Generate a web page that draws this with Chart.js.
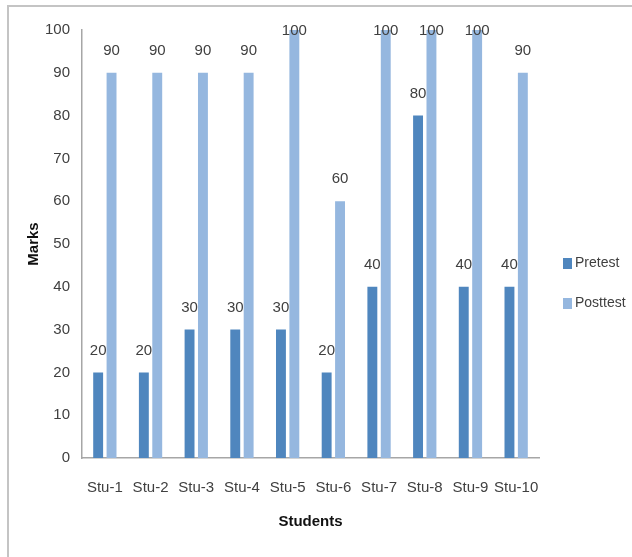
<!DOCTYPE html>
<html>
<head>
<meta charset="utf-8">
<script src="https://cdn.jsdelivr.net/npm/chart.js@4"></script>
<style>
    body { margin: 0; background: #fff; }
    #wrap { position: relative; width: 632px; height: 557px; overflow: hidden; }
    #frame { position: absolute; left: 7px; top: 5px; width: 700px; height: 600px;
             border-top: 2px solid #c4c4c4; border-left: 2px solid #c4c4c4; }
    #marksChart { position: absolute; left: 0; top: 0; }
</style>
</head>
<body>
<div id="wrap">
    <div id="frame"></div>
    <canvas id="marksChart" width="632" height="557"></canvas>
</div>
<script>
const students = ['Stu-1', 'Stu-2', 'Stu-3', 'Stu-4', 'Stu-5', 'Stu-6', 'Stu-7', 'Stu-8', 'Stu-9', 'Stu-10'];
const pretest = [20, 20, 30, 30, 30, 20, 40, 80, 40, 40];
const posttest = [90, 90, 90, 90, 100, 60, 100, 100, 100, 90];
const seriesNames = ['Pretest', 'Posttest'];

const fontFamily = "'Liberation Sans', Arial, sans-serif";
const textColor = '#404040';

// value labels above each bar (kept inside the plot at the top, like Excel)
const barLabels = {
    id: 'barLabels',
    afterDatasetsDraw(chart) {
        const ctx = chart.ctx;
        const top = chart.chartArea.top;
        ctx.save();
        ctx.font = '15px ' + fontFamily;
        ctx.fillStyle = textColor;
        ctx.textAlign = 'center';
        ctx.textBaseline = 'middle';
        chart.data.datasets.forEach((ds, i) => {
            chart.getDatasetMeta(i).data.forEach((bar, j) => {
                ctx.fillText(ds.data[j], bar.x, Math.max(bar.y - 22, top + 1));
            });
        });
        ctx.restore();
    }
};

// legend drawn at the right, lower than the default centre
const sideLegend = {
    id: 'sideLegend',
    afterDraw(chart) {
        const ctx = chart.ctx;
        ctx.save();
        ctx.font = '14px ' + fontFamily;
        ctx.textBaseline = 'middle';
        chart.data.datasets.forEach((ds, i) => {
            const y = 263 + i * 40;
            ctx.fillStyle = ds.backgroundColor;
            ctx.fillRect(563, y - 5, 9, 11);
            ctx.fillStyle = textColor;
            ctx.fillText(ds.label, 575, y);
        });
        ctx.restore();
    }
};

const ctx = document.getElementById('marksChart').getContext('2d');
const chart = new Chart(ctx, {
    type: 'bar',
    data: {
        labels: students,
        datasets: [{
            label: seriesNames[0],
            data: pretest,
            backgroundColor: '#4f86be'
        }, {
            label: seriesNames[1],
            data: posttest,
            backgroundColor: '#95b7df'
        }]
    },
    options: {
        responsive: false,
        animation: false,
        datasets: {
            bar: { categoryPercentage: 0.586, barPercentage: 0.74 }
        },
        layout: { padding: { top: 30, right: 93, left: 0, bottom: 0 } },
        plugins: {
            legend: { display: false },
            tooltip: { enabled: false }
        },
        scales: {
            x: {
                grid: { display: false, drawTicks: false },
                border: { display: true, color: '#a6a6a6', width: 1.5 },
                ticks: {
                    color: textColor, padding: 21, maxRotation: 0, minRotation: 0, autoSkip: false,
                    font: { family: fontFamily, size: 15 }
                },
                title: {
                    display: true, text: 'Students', color: '#111',
                    font: { family: fontFamily, size: 15, weight: 'bold' },
                    padding: { top: 0, bottom: 26 }
                },
                afterFit(scale) { scale.height = 99; }
            },
            y: {
                min: 0,
                max: 100,
                grid: { display: false, drawTicks: false },
                border: { display: true, color: '#a6a6a6', width: 1.5 },
                ticks: { stepSize: 10, color: textColor, padding: 12, font: { family: fontFamily, size: 15 } },
                title: {
                    display: true, text: 'Marks', color: '#111',
                    font: { family: fontFamily, size: 15, weight: 'bold' },
                    padding: { top: 25, bottom: 0 }
                },
                afterFit(scale) { scale.width = 82; }
            }
        }
    },
    plugins: [barLabels, sideLegend]
});
</script>
</body>
</html>
